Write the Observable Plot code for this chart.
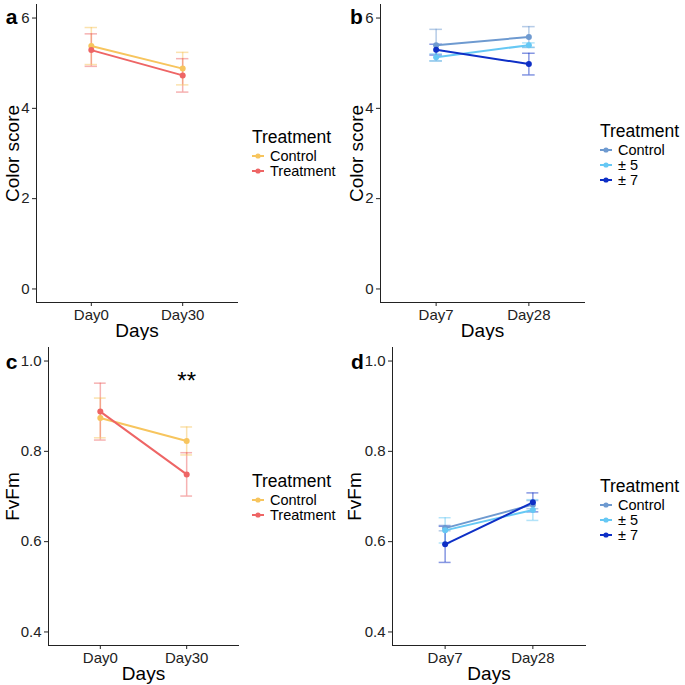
<!DOCTYPE html>
<html>
<head>
<meta charset="utf-8">
<script src="https://cdn.jsdelivr.net/npm/d3@7"></script>
<script src="https://cdn.jsdelivr.net/npm/@observablehq/plot@0.6"></script>
<style>
  html, body { margin: 0; padding: 0; background: #fff; }
  #fig { position: relative; width: 685px; height: 685px; font-family: "Liberation Sans", Arial, sans-serif; overflow: hidden; }
  .panel { position: absolute; }
  .legend { position: absolute; color: #000; }
  .legend .title { font-size: 17.5px; line-height: 22px; }
  .legend .item { display: flex; align-items: center; font-size: 14.5px; height: 15.2px; }
  .legend .item svg { margin-right: 6px; }
</style>
</head>
<body>
<div id="fig"></div>
<script>
// Sampling days and treatment groups
const daysAC = ["Day0", "Day30"];
const daysBD = ["Day7", "Day28"];
const groupsAC = ["Control", "Treatment"];
const groupsBD = ["Control", "± 5", "± 7"];
const colorsAC = ["#F7C55E", "#EE6565"];
const colorsBD = ["#6E9AD0", "#66C8F4", "#0E2FC6"];

// Panel a: colour score (mean and error)
const aControlMean = [5.38, 4.88];
const aControlErr = [0.41, 0.36];
const aTreatMean = [5.29, 4.73];
const aTreatErr = [0.36, 0.37];

// Panel b: colour score
const bControlMean = [5.40, 5.58];
const bControlErr = [0.35, 0.23];
const b5Mean = [5.13, 5.40];
const b5Err = [0.08, 0.05];
const b7Mean = [5.30, 4.98];
const b7Err = [0.12, 0.24];

// Panel c: Fv/Fm
const cControlMean = [0.874, 0.823];
const cControlErr = [0.044, 0.031];
const cTreatMean = [0.888, 0.749];
const cTreatErr = [0.063, 0.048];

// Panel d: Fv/Fm
const dControlMean = [0.630, 0.682];
const dControlErr = [0.006, 0.009];
const d5Mean = [0.625, 0.670];
const d5Err = [0.028, 0.023];
const d7Mean = [0.594, 0.687];
const d7Err = [0.040, 0.021];

const colorTicks = [0, 2, 4, 6];
const fvfmTicks = [0.4, 0.6, 0.8, 1.0];

function rowsFor(groups, means, errs, days) {
  const rows = [];
  groups.forEach((g, gi) => {
    days.forEach((day, di) => {
      const m = means[gi][di], e = errs[gi][di];
      rows.push({group: g, day, x: di + 1, mean: m, lo: m - e, hi: m + e});
    });
  });
  return rows;
}

function panel(opts) {
  const {rows, groups, colors, days, yDomain, yTicks, yFormat, yLabel, letter, letterDx, letterDy,
         width, height, marginLeft, marginRight, marginTop, marginBottom,
         yLabelOffset, extra = []} = opts;
  const cap = 0.068;
  const errStyle = {stroke: "group", strokeOpacity: 0.5, strokeWidth: 1.5};
  return Plot.plot({
    width, height, marginLeft, marginRight, marginTop, marginBottom,
    style: {fontFamily: "Liberation Sans, Arial, sans-serif", fontSize: "15px", color: "#222", background: "transparent"},
    x: {domain: [0.4, 2.6], ticks: [1, 2], tickFormat: d => days[d - 1], line: true, label: null, tickSize: 4, tickPadding: 3},
    y: {domain: yDomain, ticks: yTicks, tickFormat: yFormat, line: true, label: null, tickSize: 4, tickPadding: 3},
    color: {domain: groups, range: colors},
    marks: [
      Plot.ruleX(rows, {x: "x", y1: "lo", y2: "hi", ...errStyle}),
      Plot.ruleY(rows, {y: "hi", x1: d => d.x - cap, x2: d => d.x + cap, ...errStyle}),
      Plot.ruleY(rows, {y: "lo", x1: d => d.x - cap, x2: d => d.x + cap, ...errStyle}),
      Plot.line(rows, {x: "x", y: "mean", z: "group", stroke: "group", strokeWidth: 2}),
      Plot.dot(rows, {x: "x", y: "mean", fill: "group", r: 3}),
      Plot.text(["Days"], {text: d => d, frameAnchor: "bottom", lineAnchor: "middle", dy: 28, fontSize: 19, fill: "#000"}),
      Plot.text([yLabel], {text: d => d, frameAnchor: "left", textAnchor: "middle", lineAnchor: "middle", dx: -yLabelOffset, rotate: -90, fontSize: 19, fill: "#000"}),
      Plot.text([letter], {text: d => d, frameAnchor: "top-left", textAnchor: "middle", lineAnchor: "middle", dx: letterDx, dy: letterDy, fontSize: 21, fontWeight: "bold", fill: "#000"}),
      ...extra
    ]
  });
}

function legend(groups, colors, left, top) {
  const div = document.createElement("div");
  div.className = "legend";
  div.style.left = left + "px";
  div.style.top = top + "px";
  const t = document.createElement("div");
  t.className = "title";
  t.textContent = "Treatment";
  div.appendChild(t);
  groups.forEach((g, i) => {
    const it = document.createElement("div");
    it.className = "item";
    it.innerHTML = `<svg width="12" height="10"><line x1="0" x2="12" y1="5" y2="5" stroke="${colors[i]}" stroke-width="2"/><circle cx="6" cy="5" r="2.6" fill="${colors[i]}"/></svg><span>${g}</span>`;
    div.appendChild(it);
  });
  return div;
}

function place(node, left, top) {
  const wrap = document.createElement("div");
  wrap.className = "panel";
  wrap.style.left = left + "px";
  wrap.style.top = top + "px";
  wrap.appendChild(node);
  document.getElementById("fig").appendChild(wrap);
}

const fig = document.getElementById("fig");

// a
place(panel({
  rows: rowsFor(groupsAC, [aControlMean, aTreatMean], [aControlErr, aTreatErr], daysAC),
  groups: groupsAC, colors: colorsAC, days: daysAC,
  yDomain: [-0.3, 6.3], yTicks: colorTicks, yFormat: d3.format("d"), yLabel: "Color score",
  letter: "a", letterDx: -25, letterDy: 13,
  width: 240, height: 340, marginLeft: 36, marginRight: 3, marginTop: 4, marginBottom: 38, yLabelOffset: 24
}), 0, 0);
fig.appendChild(legend(groupsAC, colorsAC, 252, 126));

// b
place(panel({
  rows: rowsFor(groupsBD, [bControlMean, b5Mean, b7Mean], [bControlErr, b5Err, b7Err], daysBD),
  groups: groupsBD, colors: colorsBD, days: daysBD,
  yDomain: [-0.3, 6.3], yTicks: colorTicks, yFormat: d3.format("d"), yLabel: "Color score",
  letter: "b", letterDx: -24, letterDy: 13,
  width: 245, height: 340, marginLeft: 40, marginRight: 1, marginTop: 4, marginBottom: 38, yLabelOffset: 24
}), 340, 0);
fig.appendChild(legend(groupsBD, colorsBD, 600, 120));

// c
place(panel({
  rows: rowsFor(groupsAC, [cControlMean, cTreatMean], [cControlErr, cTreatErr], daysAC),
  groups: groupsAC, colors: colorsAC, days: daysAC,
  yDomain: [0.37, 1.03], yTicks: fvfmTicks, yFormat: d3.format(".1f"), yLabel: "FvFm",
  letter: "c", letterDx: -37, letterDy: 15,
  width: 240, height: 345, marginLeft: 48, marginRight: 2, marginTop: 7, marginBottom: 40, yLabelOffset: 36,
  extra: [Plot.text(["**"], {text: d => d, x: 2, y: 0.955, fontSize: 24, fill: "#000"})]
}), 0, 340);
fig.appendChild(legend(groupsAC, colorsAC, 252, 470));

// d
place(panel({
  rows: rowsFor(groupsBD, [dControlMean, d5Mean, d7Mean], [dControlErr, d5Err, d7Err], daysBD),
  groups: groupsBD, colors: colorsBD, days: daysBD,
  yDomain: [0.37, 1.03], yTicks: fvfmTicks, yFormat: d3.format(".1f"), yLabel: "FvFm",
  letter: "d", letterDx: -35, letterDy: 15,
  width: 246, height: 345, marginLeft: 52, marginRight: 1, marginTop: 7, marginBottom: 40, yLabelOffset: 38
}), 340, 340);
fig.appendChild(legend(groupsBD, colorsBD, 600, 475));
</script>
</body>
</html>
